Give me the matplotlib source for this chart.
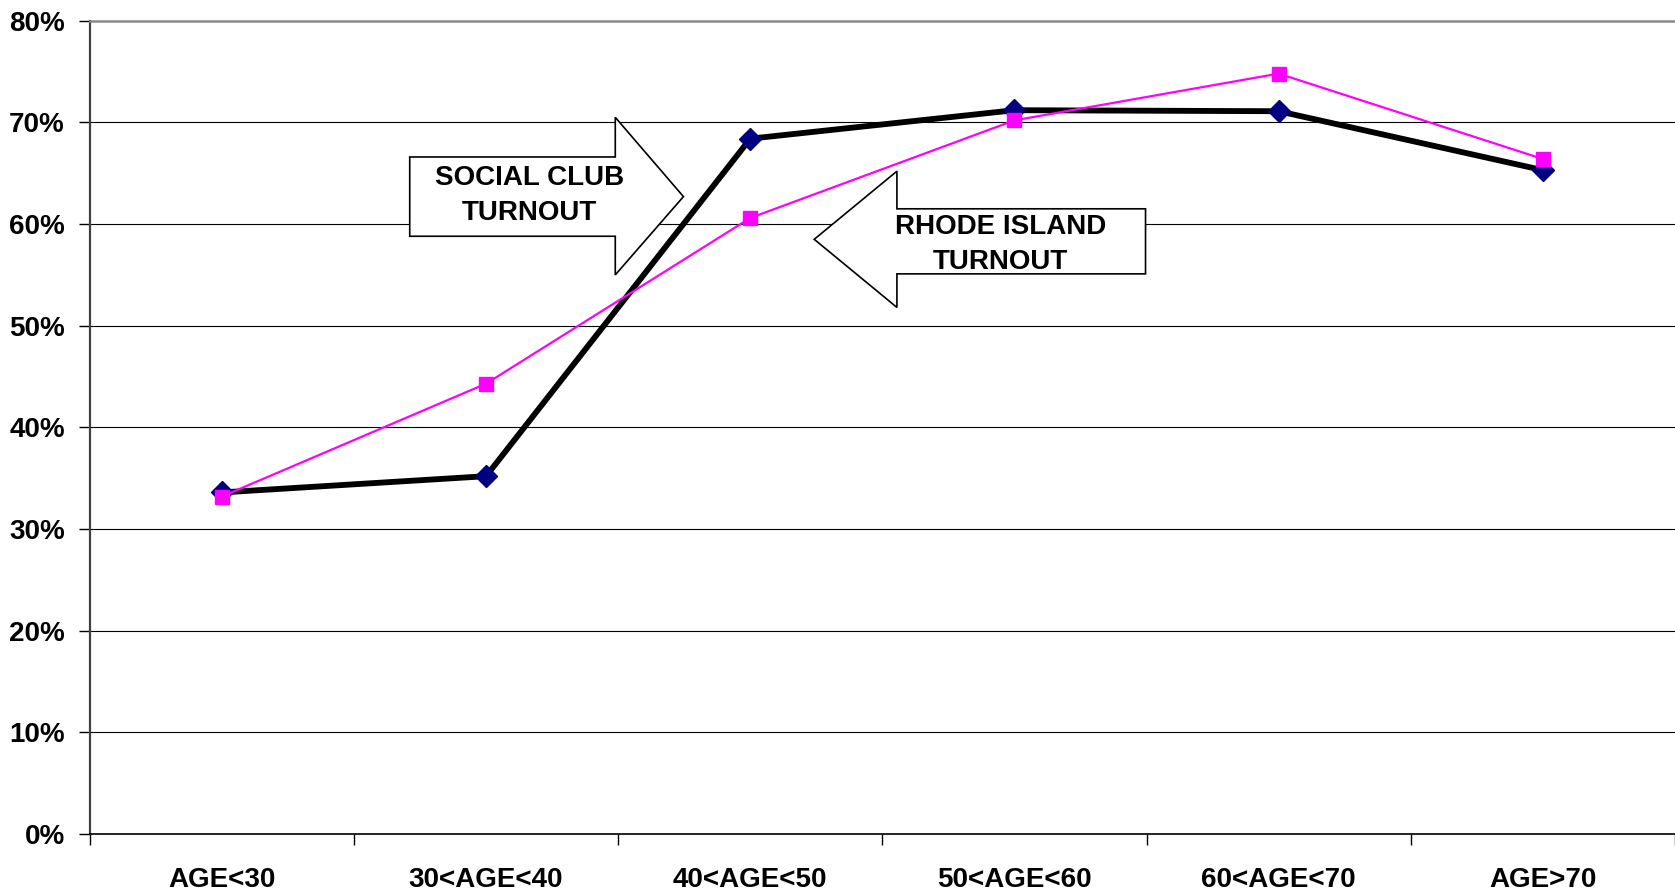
import matplotlib.pyplot as plt
from matplotlib.patches import Polygon
from matplotlib.ticker import FuncFormatter, FixedLocator

plt.rcParams['font.family'] = ['Liberation Sans', 'DejaVu Sans']
plt.rcParams['font.weight'] = 'bold'

age_groups = ['AGE<30', '30<AGE<40', '40<AGE<50', '50<AGE<60', '60<AGE<70', 'AGE>70']
social_club = [33.6, 35.2, 68.4, 71.2, 71.1, 65.3]
rhode_island = [33.2, 44.3, 60.6, 70.2, 74.8, 66.4]
y_ticks = [0, 10, 20, 30, 40, 50, 60, 70, 80]

fig = plt.figure(figsize=(16.75, 8.94), dpi=100)
ax = fig.add_axes([0.0536, 0.0671, 0.9464, 0.9097])

x = list(range(len(age_groups)))

# horizontal grid
for v in y_ticks[1:-1]:
    ax.axhline(v, color='black', linewidth=0.8, zorder=1)

ax.plot(x, rhode_island, color='#FF00FF', linewidth=1.6, marker='s',
        markersize=9.5, markerfacecolor='#FF00FF', markeredgecolor='#FF00FF', zorder=4)
ax.plot(x, social_club, color='black', linewidth=4.2, marker='D',
        markersize=11.5, markerfacecolor='#000080', markeredgecolor='#000080', zorder=3)

# block arrows with labels
right_arrow = [(0.711, 66.6), (1.489, 66.6), (1.489, 70.5), (1.747, 62.7),
               (1.489, 55.0), (1.489, 58.8), (0.711, 58.8)]
left_arrow = [(3.496, 61.5), (2.555, 61.5), (2.555, 65.2), (2.242, 58.5),
              (2.555, 51.8), (2.555, 55.1), (3.496, 55.1)]
for pts in (right_arrow, left_arrow):
    ax.add_patch(Polygon(pts, closed=True, facecolor='white', edgecolor='black',
                         linewidth=1.2, zorder=5))

ax.text(1.165, 62.8, 'SOCIAL CLUB\nTURNOUT', ha='center', va='center',
        fontsize=20, fontweight='bold', linespacing=1.45, zorder=6)
ax.text(2.948, 58.0, 'RHODE ISLAND\nTURNOUT', ha='center', va='center',
        fontsize=20, fontweight='bold', linespacing=1.45, zorder=6)

ax.set_xlim(-0.5, len(age_groups) - 0.5)
ax.set_ylim(0, 80)

ax.yaxis.set_major_locator(FixedLocator(y_ticks))
ax.yaxis.set_major_formatter(FuncFormatter(lambda v, p: f'{int(v)}%'))
ax.tick_params(axis='y', length=8, width=1, pad=10, labelsize=20, direction='out')

ax.xaxis.set_major_locator(FixedLocator([i - 0.5 for i in range(len(age_groups) + 1)]))
ax.xaxis.set_major_formatter(FuncFormatter(lambda v, p: ''))
ax.xaxis.set_minor_locator(FixedLocator(x))
ax.set_xticklabels(age_groups, minor=True)
ax.tick_params(axis='x', which='major', length=8, width=1, direction='out')
ax.tick_params(axis='x', which='minor', length=0, pad=24, labelsize=20)

for lbl in ax.get_yticklabels() + ax.get_xticklabels(minor=True):
    lbl.set_fontweight('bold')

ax.spines['right'].set_visible(False)
ax.spines['top'].set_color('#888888')
ax.spines['top'].set_linewidth(1.8)
ax.spines['left'].set_color('#404040')
ax.spines['left'].set_linewidth(1.6)
ax.spines['bottom'].set_color('black')
ax.spines['bottom'].set_linewidth(1.2)

fig.savefig('out.png', dpi=100)
